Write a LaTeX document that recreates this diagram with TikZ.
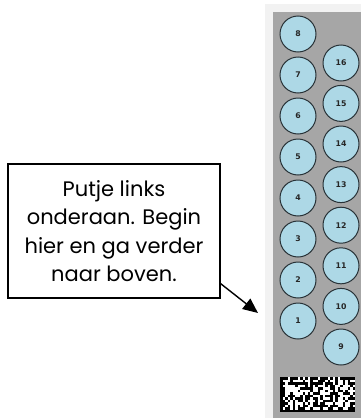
\documentclass[tikz,border=0pt]{standalone}
\usepackage{fontspec}
\setmainfont{Poppins}
\newfontfamily\numfont{DejaVu Sans}
\usetikzlibrary{arrows.meta,calc}
\definecolor{stripgray}{RGB}{166,166,166}
\definecolor{edgegray}{RGB}{242,242,242}
\definecolor{wellblue}{RGB}{173,216,230}
\definecolor{welledge}{RGB}{40,50,55}
\tikzset{
  well/.style={circle,draw=welledge,line width=1pt,fill=wellblue,minimum size=36pt,inner sep=0pt,font=\numfont\bfseries\fontsize{7.8}{8}\selectfont,text=black!85},
  callout/.style={draw=black,line width=1.2pt,fill=white,minimum width=212pt,minimum height=134pt,align=center,inner sep=0pt,font=\fontsize{21}{28.5}\selectfont},
  pointer/.style={-{Triangle[length=15pt,width=13pt]},line width=1.4pt}
}
\begin{document}
\begin{tikzpicture}[x=1pt,y=-1pt]
\useasboundingbox (0,0) rectangle (361,418);
\fill[white] (0,0) rectangle (361,418);
\fill[edgegray] (265,4) rectangle (361,418);
\fill[stripgray] (273,12) rectangle (361,418);
% wells left column
\foreach \n/\yy in {1/321,2/280,3/239,4/198,5/157,6/116,7/75,8/34}
  \node[well] (w\n) at (298,\yy) {\n};
% wells right column
\foreach \n/\yy in {9/347,10/306.4,11/265.8,12/225.2,13/184.6,14/144,15/103.4,16/63}
  \node[well] (w\n) at (341,\yy) {\n};
% data matrix code
\fill[white] (280,377) rectangle (355,412);
\pgfmathsetseed{1234}
\foreach \i in {0,...,29}{
  \foreach \j in {0,...,13}{
    \pgfmathparse{rnd<0.5?1:0}
    \ifnum\pgfmathresult=1
      \fill[black] (280+\i*2.5,377+\j*2.5) rectangle ++(2.5,2.5);
    \fi
  }
}
\fill[black] (280,377) rectangle (282.5,412);
\fill[black] (280,409.5) rectangle (355,412);
\foreach \i in {0,2,...,28}
  \fill[black] (280+\i*2.5,377) rectangle ++(2.5,2.5);
\foreach \j in {0,2,...,12}
  \fill[black] (352.5,377+\j*2.5) rectangle ++(2.5,2.5);
% callout
\node[callout] (box) at (114,231) {Putje links\\onderaan. Begin\\hier en ga verder\\naar boven.};
\coordinate (tip) at (258,313);
\draw[pointer] ($(box.south east)+(0,-15)$) -- (tip);
\end{tikzpicture}
\end{document}
